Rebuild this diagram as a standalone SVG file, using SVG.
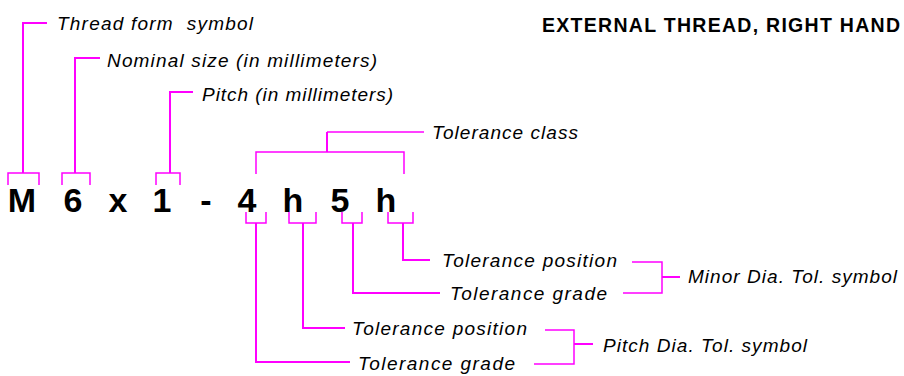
<svg xmlns="http://www.w3.org/2000/svg" width="904" height="376" viewBox="0 0 904 376">
  <style>
    .lbl { font-family: "Liberation Sans", Arial, sans-serif; font-style: italic; font-size: 19px; fill: #000; }
    .code { font-family: "Liberation Sans", Arial, sans-serif; font-weight: bold; font-size: 34px; fill: #000; text-anchor: middle; }
    .title { font-family: "Liberation Sans", Arial, sans-serif; font-weight: bold; font-size: 19.5px; fill: #000; }
    .ln { fill: none; stroke: #ff00ff; stroke-width: 2; stroke-linejoin: miter; stroke-linecap: butt; }
    .thin { stroke-width: 1.5; }
  </style>
  <rect width="904" height="376" fill="#fff"/>

  <!-- designation characters -->
  <g id="designation">
    <text class="code" x="22" y="212">M</text>
    <text class="code" x="73" y="212">6</text>
    <text class="code" x="118" y="212">x</text>
    <text class="code" x="162" y="212">1</text>
    <text class="code" x="206" y="212">-</text>
    <text class="code" x="247" y="212">4</text>
    <text class="code" x="293" y="212">h</text>
    <text class="code" x="340" y="212">5</text>
    <text class="code" x="386" y="212">h</text>
  </g>

  <g id="title">
    <text class="title" x="542" y="32" textLength="358" lengthAdjust="spacing">EXTERNAL THREAD, RIGHT HAND</text>
  </g>

  <g id="thread-form">
    <text class="lbl" x="57" y="30" textLength="196" lengthAdjust="spacing" xml:space="preserve">Thread form  symbol</text>
  </g>
  <g id="nominal-size">
    <text class="lbl" x="107" y="67" textLength="270" lengthAdjust="spacing">Nominal size (in millimeters)</text>
  </g>
  <g id="pitch">
    <text class="lbl" x="202" y="101" textLength="191" lengthAdjust="spacing">Pitch (in millimeters)</text>
  </g>
  <g id="tolerance-class">
    <text class="lbl" x="432" y="139" textLength="146" lengthAdjust="spacing">Tolerance class</text>
  </g>
  <g id="minor-position">
    <text class="lbl" x="442" y="267" textLength="175" lengthAdjust="spacing">Tolerance position</text>
  </g>
  <g id="minor-grade">
    <text class="lbl" x="450" y="300" textLength="157" lengthAdjust="spacing">Tolerance grade</text>
  </g>
  <g id="pitch-position">
    <text class="lbl" x="352" y="335" textLength="175" lengthAdjust="spacing">Tolerance position</text>
  </g>
  <g id="pitch-grade">
    <text class="lbl" x="358" y="370" textLength="157" lengthAdjust="spacing">Tolerance grade</text>
  </g>
  <g id="minor-dia-symbol">
    <text class="lbl" x="688" y="283" textLength="209" lengthAdjust="spacing">Minor Dia. Tol. symbol</text>
  </g>
  <g id="pitch-dia-symbol">
    <text class="lbl" x="603" y="352" textLength="204" lengthAdjust="spacing">Pitch Dia. Tol. symbol</text>
  </g>

  <g id="connectors">
    <!-- brackets above M, 6 and 1 with leaders to their labels -->
    <path class="ln thin" d="M8,185 V173 H39 V185"/>
    <path class="ln" d="M23,173 V23 H47"/>
    <path class="ln thin" d="M62,185 V173 H90 V185"/>
    <path class="ln" d="M75,173 V58 H100"/>
    <path class="ln thin" d="M156,185 V173 H180 V185"/>
    <path class="ln" d="M170,173 V92 H193"/>

    <!-- tolerance class bracket over 4h5h -->
    <path class="ln thin" d="M256,174 V152 H404 V174"/>
    <path class="ln" d="M327,152 V132"/>
    <path class="ln thin" d="M327,132 H424"/>

    <!-- brackets below 4, h, 5, h -->
    <path class="ln thin" d="M246,212 V223 H266 V212"/>
    <path class="ln" d="M256,223 V362 H350"/>
    <path class="ln thin" d="M289,212 V223 H316 V212"/>
    <path class="ln" d="M303,223 V328 H345"/>
    <path class="ln thin" d="M342,212 V223 H362 V212"/>
    <path class="ln" d="M353,223 V293 H440"/>
    <path class="ln thin" d="M388,212 V223 H413 V212"/>
    <path class="ln" d="M403,223 V260 H430"/>

    <!-- grouping brackets -->
    <path class="ln thin" d="M632,262 H662 V293 H623"/>
    <path class="ln" d="M662,277 H680"/>
    <path class="ln thin" d="M545,330 H574 V364 H534"/>
    <path class="ln" d="M574,344 H593"/>
  </g>
</svg>
